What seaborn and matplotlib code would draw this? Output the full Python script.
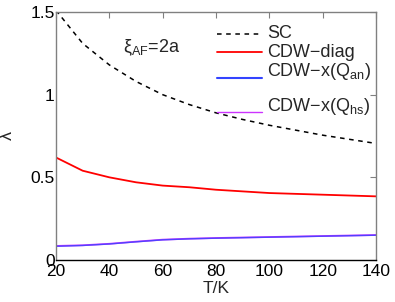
import numpy as np
import pandas as pd
import seaborn as sns
import matplotlib
matplotlib.use("Agg")
import matplotlib.pyplot as plt

# values
T = [20, 30, 40, 50, 60, 70, 80, 90, 100, 110, 120, 130, 140]
sc = [1.51, 1.31, 1.18, 1.08, 1.00, 0.94, 0.89, 0.85, 0.815, 0.785, 0.755, 0.73, 0.705]
cdw_diag = [0.62, 0.54, 0.50, 0.47, 0.45, 0.44, 0.425, 0.415, 0.405, 0.40, 0.395, 0.39, 0.385]
cdw_an = [0.083, 0.088, 0.097, 0.110, 0.122, 0.128, 0.132, 0.135, 0.138, 0.141, 0.144, 0.147, 0.150]
cdw_hs = [0.085, 0.089, 0.098, 0.111, 0.123, 0.129, 0.133, 0.136, 0.139, 0.142, 0.145, 0.148, 0.151]
labels = ['SC', 'CDW\u2212diag', 'CDW\u2212x(Q$_{\\rm an}$)', 'CDW\u2212x(Q$_{\\rm hs}$)']

sns.set_style("white")
plt.rcParams['font.family'] = ['Liberation Sans', 'DejaVu Sans']
plt.rcParams['mathtext.fontset'] = 'custom'
plt.rcParams['mathtext.rm'] = 'Liberation Sans'
plt.rcParams['mathtext.it'] = 'Liberation Sans'

df = pd.DataFrame({'T': T, 'SC': sc, 'diag': cdw_diag, 'an': cdw_an, 'hs': cdw_hs})

fig = plt.figure(figsize=(3.95, 3.02), dpi=100)
ax = fig.add_axes([56/395, 1-260/302, 320/395, 248/302])

styles = [
    ('SC', 'black', (0, (3, 3)), 1.1, 1.0),
    ('diag', '#ff0000', '-', 1.3, 1.0),
    ('hs', '#cc33ff', '-', 1.3, 1.0),
    ('an', '#3344ff', '-', 1.0, 0.8),
]
for col, c, ls, lw, a in styles:
    sns.lineplot(data=df, x='T', y=col, ax=ax, color=c, linestyle=ls, linewidth=lw, alpha=a)

ax.set_xlim(20, 140)
ax.set_ylim(0, 1.5)
ax.set_xticks([20, 40, 60, 80, 100, 120, 140])
ax.set_yticks([0, 0.5, 1, 1.5])
ax.set_yticklabels(['0', '0.5', '1', '1.5'])
ax.tick_params(direction='in', length=4, labelsize=12.5, top=True, right=True,
               colors='#808080', labelcolor='black')
ax.tick_params(axis='y', pad=1)
ax.tick_params(axis='x', pad=3)
for s in ['left', 'top', 'right']:
    ax.spines[s].set_color('#808080')
ax.spines['bottom'].set_color('black')
for s in ax.spines.values():
    s.set_linewidth(1.0)

ax.set_xlabel('T/K', fontsize=12.5, labelpad=1)
ax.set_ylabel('λ', fontsize=13, labelpad=10)

ax.text(0.209, 0.839, r'$\xi_{\rm AF}$=2a', transform=ax.transAxes, fontsize=13, va='baseline')

# legend drawn by hand to keep the uneven row spacing of the original
line_y = [0.911, 0.839, 0.734, 0.597]
text_y = [0.895, 0.819, 0.742, 0.601]
leg_styles = [('black', (0, (3, 3)), 1.1), ('#ff0000', '-', 1.3),
              ('#3344ff', '-', 1.5), ('#cc33ff', '-', 1.0)]
for (c, ls, lw), ly, ty, lab in zip(leg_styles, line_y, text_y, labels):
    ax.plot([0.503, 0.644], [ly, ly], transform=ax.transAxes, color=c, linestyle=ls, linewidth=lw)
    ax.text(0.659, ty, lab, transform=ax.transAxes, fontsize=13, va='baseline')

fig.savefig('out.png', dpi=100)
